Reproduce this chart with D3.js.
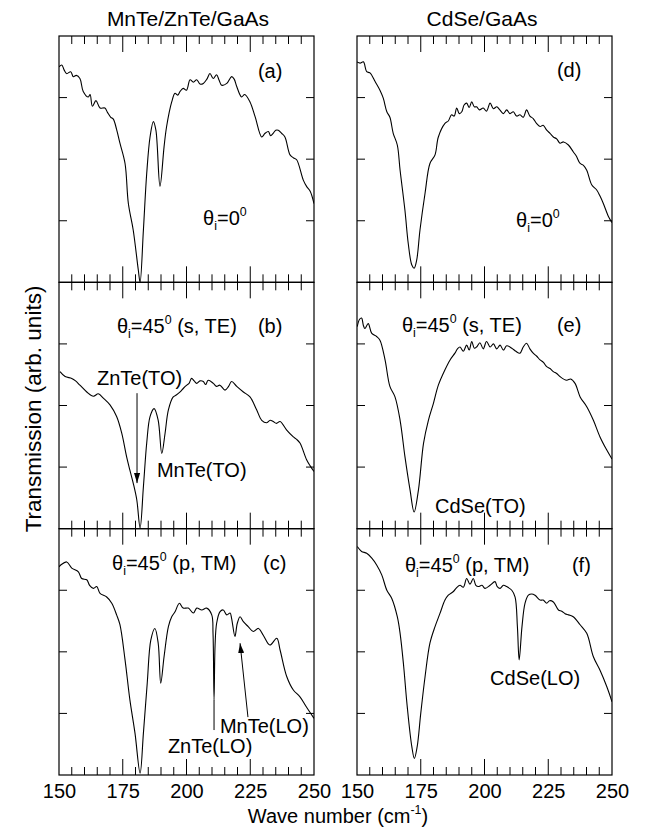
<!DOCTYPE html>
<html>
<head>
<meta charset="utf-8">
<script src="https://cdn.jsdelivr.net/npm/d3@7"></script>
<style>
    body { margin: 0; background: #fff; }
    svg { display: block; font-family: "Liberation Sans", Arial, Helvetica, sans-serif; }
    text { white-space: pre; fill: #000; }
</style>
</head>
<body>
<div id="chart"></div>
<script>
// spectra: [wave number (cm-1), transmission (arb.)]
const specA = [
    [150, 3.50], [151.1, 3.53], [152, 3.45], [153, 3.39], [154.6, 3.42], [155.6, 3.34], [156.8, 3.36], [158.2, 3.31],
    [159.5, 3.10], [161.5, 3.01], [162.2, 3.05], [163.1, 2.86], [164.5, 2.95], [166.1, 2.83], [168, 2.83], [169, 2.76],
    [170.3, 2.68], [171.3, 2.65], [172.6, 2.48], [173.9, 2.26], [175.9, 1.93], [177.2, 1.28], [179.1, 0.85], [181.1, 0.20],
    [181.8, 0.00], [183.1, 0.85], [184.4, 1.77], [185.7, 2.36], [187.0, 2.61], [188.0, 2.47], [189.6, 1.56], [191.2, 2.20],
    [192.2, 2.53], [194.2, 2.93], [195.5, 3.07], [196.5, 3.04], [197.5, 3.10], [198.7, 3.15], [200, 3.12], [201.4, 3.29],
    [202.7, 3.25], [204.0, 3.29], [205.3, 3.22], [206.6, 3.23], [208, 3.30], [209.2, 3.39], [210.5, 3.31], [211.8, 3.37],
    [212.8, 3.28], [213.8, 3.20], [215.8, 3.23], [217.7, 3.34], [218.7, 3.30], [219.7, 3.18], [221.6, 3.01], [222.8, 3.05],
    [224.9, 2.93], [226.9, 2.69], [229.5, 2.36], [230.8, 2.42], [232.1, 2.45], [233, 2.38], [234.0, 2.42], [235, 2.47],
    [236.0, 2.47], [237.3, 2.42], [238.6, 2.36], [240.6, 2.07], [242, 2.02], [243.2, 1.99], [245.8, 1.66], [247.2, 1.55],
    [248.5, 1.48], [250, 1.28]
];

const specB = [
    [150.4, 2.55], [152.4, 2.47], [155, 2.44], [156.5, 2.40], [158.2, 2.33], [160.9, 2.22], [163.5, 2.15], [165.4, 2.19],
    [167.4, 2.12], [170, 2.01], [172.6, 1.82], [174.6, 1.55], [176.5, 1.17], [177.8, 0.95], [179.1, 0.74], [180.5, 0.47],
    [181.8, 0.01], [183.1, 0.68], [184.4, 1.39], [185.7, 1.82], [187.3, 1.95], [188.9, 1.76], [190.3, 1.22], [191.6, 1.55],
    [192.9, 1.93], [194.8, 2.14], [196, 2.17], [197.5, 2.22], [198.8, 2.28], [200.1, 2.33], [201, 2.36], [202.0, 2.44],
    [203, 2.40], [204.0, 2.36], [205.3, 2.40], [206.6, 2.39], [207.5, 2.34], [208.5, 2.41], [210.5, 2.36], [211.8, 2.31],
    [213.1, 2.33], [215.1, 2.25], [216.5, 2.31], [217.7, 2.39], [219.7, 2.31], [222.3, 2.22], [224.9, 2.14], [227.5, 1.93],
    [229.5, 1.76], [231.5, 1.72], [232.8, 1.76], [234.0, 1.74], [235.3, 1.71], [236.7, 1.74], [239.3, 1.60], [241.9, 1.49],
    [243.2, 1.45], [244.5, 1.39], [247.1, 1.12], [248.5, 1.02], [250, 0.93]
];

const specC = [
    [150, 3.38], [150.7, 3.41], [153, 3.46], [155, 3.36], [157.6, 3.30], [158.9, 3.19], [160.9, 3.17], [162, 3.08],
    [163.5, 3.03], [164.8, 3.06], [166.1, 2.95], [168.7, 2.89], [170.7, 2.79], [172.6, 2.60], [173.9, 2.44], [175.9, 1.87],
    [177.8, 1.22], [179.8, 0.68], [181.8, 0.03], [183.1, 0.68], [184.6, 1.49], [186.0, 2.19], [187.6, 2.38], [188.9, 2.14],
    [189.9, 1.49], [191.2, 1.92], [192.9, 2.41], [194.2, 2.57], [195.5, 2.65], [197.2, 2.79], [198.7, 2.71], [200.7, 2.71],
    [202.7, 2.63], [204.0, 2.71], [206.0, 2.68], [207.9, 2.71], [209.9, 2.60], [210.4, 2.30], [210.8, 1.22], [211.2, 2.10],
    [211.8, 2.46], [213.1, 2.65], [214.4, 2.68], [215.8, 2.60], [217.1, 2.63], [217.7, 2.54], [219.0, 2.25], [219.9, 2.46],
    [221.0, 2.57], [222.3, 2.49], [224.2, 2.41], [226.2, 2.33], [228.2, 2.38], [230.1, 2.27], [232.7, 2.11], [235.4, 2.22],
    [236.7, 2.03], [239.3, 1.60], [241.9, 1.38], [244.5, 1.27], [247.1, 1.10], [250, 0.92]
];

const specD = [
    [150, 3.58], [151.2, 3.56], [152.5, 3.58], [153.8, 3.42], [155.1, 3.40], [157.1, 3.26], [159.0, 3.12], [160.3, 2.99],
    [161.7, 2.77], [162.9, 2.68], [164.2, 2.42], [165.8, 2.23], [166.9, 1.82], [168.8, 1.17], [170.1, 0.63], [171.5, 0.28],
    [172.4, 0.23], [173.4, 0.36], [174.7, 0.85], [176.7, 1.45], [178.6, 1.93], [180.6, 2.07], [181.9, 2.36], [184.5, 2.58],
    [185.8, 2.62], [187.1, 2.72], [188.1, 2.70], [189.1, 2.83], [190.1, 2.74], [191.1, 2.77], [192, 2.88], [193.0, 2.91],
    [194, 2.84], [195.0, 2.93], [196.0, 2.85], [196.9, 2.85], [198, 2.80], [199.5, 2.83], [200.8, 2.78], [202.2, 2.91],
    [203.5, 2.82], [204.8, 2.85], [206, 2.80], [207.4, 2.74], [208.7, 2.80], [210, 2.74], [211.3, 2.77], [212.6, 2.70],
    [213.9, 2.72], [215.2, 2.68], [216.5, 2.80], [217.8, 2.70], [219.1, 2.66], [220.4, 2.58], [221.8, 2.53], [223, 2.55],
    [224.4, 2.47], [225.7, 2.42], [227.0, 2.36], [228.3, 2.33], [229.6, 2.26], [231, 2.28], [232.9, 2.23], [234.8, 2.12],
    [236, 2.05], [237.5, 1.93], [238.8, 1.90], [240.1, 1.82], [242.1, 1.58], [244.0, 1.50], [245.3, 1.40], [246.6, 1.28],
    [248.6, 1.07], [250, 0.97]
];

const specE = [
    [150.1, 3.28], [151.0, 3.40], [151.8, 3.42], [152.5, 3.30], [153.1, 3.25], [154.4, 3.33], [155.8, 3.17], [157.7, 3.12],
    [159.0, 3.06], [161.0, 2.74], [162.9, 2.31], [164.9, 2.14], [166.9, 1.76], [168.8, 1.17], [170.8, 0.63], [172.4, 0.27],
    [174.1, 0.63], [176.1, 1.39], [178.0, 1.76], [180.0, 2.04], [181.9, 2.33], [184.5, 2.58], [186.5, 2.74], [188.4, 2.85],
    [189.4, 2.92], [190.4, 2.95], [191.7, 2.88], [193.0, 2.98], [194, 2.90], [195.0, 3.04], [196, 2.93], [196.9, 2.95],
    [198.2, 3.02], [199.5, 2.92], [200.8, 3.04], [202.2, 2.95], [203.5, 3.00], [204.8, 2.92], [206.1, 2.98], [207.4, 2.90],
    [208.7, 2.97], [210.7, 2.93], [212.3, 2.88], [213.9, 2.85], [215.2, 2.95], [216.5, 3.01], [217.8, 2.92], [219.1, 2.85],
    [220.5, 2.80], [221.8, 2.74], [223.1, 2.70], [224.4, 2.63], [225.7, 2.60], [227.0, 2.55], [228.3, 2.52], [229.6, 2.47],
    [232.2, 2.41], [233.8, 2.43], [235.5, 2.36], [237.5, 2.14], [240.1, 1.98], [242.7, 1.76], [245.3, 1.49], [247.9, 1.28],
    [250, 1.13]
];

const specF = [
    [150.1, 3.71], [151.8, 3.63], [153.8, 3.60], [155.8, 3.52], [157.7, 3.41], [159.7, 3.25], [161.7, 3.00], [163.6, 2.87],
    [165.8, 2.57], [166.9, 2.30], [168.2, 1.81], [169.7, 1.11], [171.5, 0.46], [172.5, 0.27], [173.6, 0.46], [175.0, 1.00],
    [176.7, 1.60], [178.6, 2.14], [180.6, 2.41], [182.5, 2.62], [184.5, 2.84], [185.8, 2.92], [187.8, 2.98], [189, 3.04],
    [190.4, 3.08], [191.7, 3.05], [193.0, 3.19], [194.3, 3.10], [195.6, 3.19], [196.6, 3.08], [197.6, 3.06], [199, 3.08],
    [200.2, 3.03], [202.2, 3.08], [204.1, 3.14], [205, 3.06], [206.1, 3.03], [207.4, 3.08], [208.7, 3.06], [210.7, 3.00],
    [212.0, 2.89], [212.9, 2.41], [213.6, 1.87], [214.7, 2.41], [215.9, 2.79], [217.2, 2.92], [218.5, 2.94], [219.8, 2.92],
    [221.8, 2.84], [223, 2.84], [224.4, 2.79], [225.5, 2.83], [227.0, 2.81], [229.0, 2.68], [230.3, 2.66], [231.6, 2.62],
    [233, 2.60], [234.8, 2.57], [237.5, 2.44], [240.1, 2.30], [242.7, 1.92], [245.3, 1.70], [247.9, 1.44], [250, 1.19]
];

const columnTitles = ["MnTe/ZnTe/GaAs", "CdSe/GaAs"];
const panelTags = ["(a)", "(b)", "(c)", "(d)", "(e)", "(f)"];
const tickLabels = [150, 175, 200, 225, 250];
const minorTicks = d3.range(155, 250, 5).filter(v => v % 25 !== 0);
const majorTicks = [175, 200, 225];
const yTicks = [1, 2, 3];

const width = 647;
const height = 834;
const colLeft = [59, 357];
const colWidth = 255;
const plotTop = 36;
const plotBottom = 775;
const rowHeight = (plotBottom - plotTop) / 3;
const fontSize = 20;

const svg = d3.select("#chart")
    .append("svg")
    .attr("width", width)
    .attr("height", height);

const defs = svg.append("defs");
defs.append("marker")
    .attr("id", "arrow")
    .attr("viewBox", "0 -3 10 6")
    .attr("markerUnits", "userSpaceOnUse")
    .attr("markerWidth", 10)
    .attr("markerHeight", 6)
    .attr("refX", 10)
    .attr("refY", 0)
    .attr("orient", "auto")
    .append("path")
    .attr("d", "M0,-3L10,0L0,3Z")
    .attr("fill", "#000");

const xScales = colLeft.map(l => d3.scaleLinear().domain([150, 250]).range([l, l + colWidth]));
const yScales = [0, 1, 2].map(r => d3.scaleLinear().domain([0, 4])
    .range([plotTop + (r + 1) * rowHeight, plotTop + r * rowHeight]));

const panels = [
    { col: 0, row: 0, data: specA },
    { col: 0, row: 1, data: specB },
    { col: 0, row: 2, data: specC },
    { col: 1, row: 0, data: specD },
    { col: 1, row: 1, data: specE },
    { col: 1, row: 2, data: specF },
];

// text with sub/superscripts: parts = [[string, kind]]
const addText = (g, x, y, parts, size = fontSize, anchor = "start") => {
    const t = g.append("text")
        .attr("x", x)
        .attr("y", y)
        .attr("font-size", size)
        .attr("text-anchor", anchor);
    let shift = 0;
    parts.forEach(([s, kind]) => {
        const target = kind === "sub" ? 5 : kind === "sup" ? -9 : 0;
        const ts = t.append("tspan").attr("dy", target - shift).text(s);
        if (kind) ts.attr("font-size", size * 0.62);
        shift = target;
    });
    return t;
};

const theta = (deg, rest) => [["θ"], ["i", "sub"], ["=" + deg], ["0", "sup"], [rest]];

const addLine = (g, x1, y1, x2, y2, w = 1) => g.append("line")
    .attr("x1", x1).attr("y1", y1)
    .attr("x2", x2).attr("y2", y2)
    .attr("stroke", "#000")
    .attr("stroke-width", w);

panels.forEach((p, i) => {
    const x = xScales[p.col];
    const y = yScales[p.row];
    const [x0, x1] = x.range();
    const [y0, y1] = y.range();
    const g = svg.append("g");

    // inward ticks on all four sides
    [[8, minorTicks], [16, majorTicks]].forEach(([len, vals]) => {
        vals.forEach(v => {
            addLine(g, x(v), y0, x(v), y0 - len);
            addLine(g, x(v), y1, x(v), y1 + len);
        });
    });
    yTicks.forEach(v => {
        addLine(g, x0, y(v), x0 + 8, y(v));
        addLine(g, x1, y(v), x1 - 8, y(v));
    });

    g.append("rect")
        .attr("x", x0)
        .attr("y", y1)
        .attr("width", x1 - x0)
        .attr("height", y0 - y1)
        .attr("fill", "none")
        .attr("stroke", "#000")
        .attr("stroke-width", 1.2);

    defs.append("clipPath").attr("id", "clip" + i)
        .append("rect")
        .attr("x", x0).attr("y", y1)
        .attr("width", x1 - x0).attr("height", y0 - y1);

    g.append("path")
        .datum(p.data)
        .attr("clip-path", `url(#clip${i})`)
        .attr("fill", "none")
        .attr("stroke", "#000")
        .attr("stroke-width", 1.1)
        .attr("stroke-linejoin", "round")
        .attr("d", d3.line()
            .x(d => x(d[0]))
            .y(d => y(d[1]))
            .curve(d3.curveCatmullRom.alpha(0.5)));

    if (p.row === 2) {
        svg.append("g")
            .attr("transform", `translate(0,${y0})`)
            .call(d3.axisBottom(x).tickValues(tickLabels).tickSize(0).tickPadding(9).tickFormat(d3.format("d")))
            .call(a => a.select(".domain").remove())
            .call(a => a.selectAll("text")
                .attr("font-size", fontSize)
                .attr("font-family", "\"Liberation Sans\", Arial, sans-serif")
                .attr("fill", "#000"));
    }
});

const at = (i, wx, wy) => [xScales[panels[i].col](wx), yScales[panels[i].row](wy)];

// panel tags and angle labels
const tagPos = [[228.0, 3.32], [228.0, 3.18], [230.0, 3.33], [228.4, 3.33], [228.4, 3.19], [234.3, 3.30]];
panelTags.forEach((t, i) => addText(svg, ...at(i, ...tagPos[i]), [[t]]));

addText(svg, ...at(0, 206.5, 0.93), theta("0", ""));
addText(svg, ...at(3, 212.4, 0.90), theta("0", ""));
addText(svg, ...at(1, 172.7, 3.18), theta("45", " (s, TE)"));
addText(svg, ...at(4, 167.6, 3.19), theta("45", " (s, TE)"));
addText(svg, ...at(2, 170.8, 3.33), theta("45", " (p, TM)"));
addText(svg, ...at(5, 168.8, 3.30), theta("45", " (p, TM)"));

// phonon mode annotations
addText(svg, ...at(1, 164.9, 2.33), [["ZnTe(TO)"]]);
addText(svg, ...at(1, 188.4, 0.84), [["MnTe(TO)"]]);
addText(svg, ...at(4, 180.6, 0.25), [["CdSe(TO)"]]);
addText(svg, ...at(2, 213.1, 0.68), [["MnTe(LO)"]]);
addText(svg, ...at(2, 192.7, 0.36), [["ZnTe(LO)"]]);
addText(svg, ...at(5, 202.2, 1.46), [["CdSe(LO)"]]);

addLine(svg, ...at(1, 180.6, 2.20), ...at(1, 180.6, 0.74)).attr("marker-end", "url(#arrow)");
addLine(svg, ...at(2, 224.1, 0.94), ...at(2, 221.0, 2.14)).attr("marker-end", "url(#arrow)");
addLine(svg, ...at(2, 210.8, 1.22), ...at(2, 210.8, 0.73));

// column titles and axis titles
columnTitles.forEach((t, c) => addText(svg, c === 0 ? 188 : 482, 26, [[t]], 21, "middle"));

addText(svg, 338, 823, [["Wave number (cm"], ["-1", "sup"], [")"]], fontSize, "middle");

svg.append("text")
    .attr("transform", "translate(41,409) rotate(-90)")
    .attr("text-anchor", "middle")
    .attr("font-size", 22.5)
    .text("Transmission (arb. units)");
</script>
</body>
</html>
